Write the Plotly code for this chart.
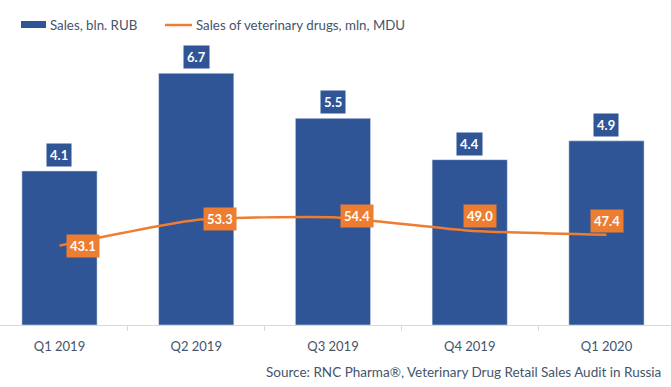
import plotly.graph_objects as go

categories = ["Q1 2019", "Q2 2019", "Q3 2019", "Q4 2019", "Q1 2020"]
sales_bln_rub = [4.1, 6.7, 5.5, 4.4, 4.9]
sales_mln_mdu = [43.1, 53.3, 54.4, 49.0, 47.4]
bar_name = "Sales, bln. RUB"
line_name = "Sales of veterinary drugs, mln, MDU"
source_text = "Source: RNC Pharma®, Veterinary Drug Retail Sales Audit in Russia"

BLUE = "#2F5597"
ORANGE = "#ED7D31"
TEXT = "#44546A"
FONT = "Lato"

W, H = 671, 387
MT, MB = 27, 62
pw, ph = W, H - MT - MB


def px_x(x):
    return x / pw


def px_y(y):
    return ((H - MB) - y) / ph


fig = go.Figure()
fig.add_trace(go.Bar(x=categories, y=sales_bln_rub, name=bar_name,
                     marker_color=BLUE, width=0.55, showlegend=False, hoverinfo="skip"))
fig.add_trace(go.Scatter(x=categories, y=sales_mln_mdu, name=line_name, yaxis="y2",
                         mode="lines", line=dict(color=ORANGE, width=2.5, shape="spline", smoothing=0.5),
                         showlegend=False, hoverinfo="skip"))

ann = []
for c, v in zip(categories, sales_bln_rub):
    ann.append(dict(x=c, y=v, xref="x", yref="y", text=f"<b>{v:.1f}</b>", showarrow=False,
                    yanchor="bottom", yshift=4, bgcolor=BLUE, borderpad=3,
                    font=dict(color="white", size=13, family=FONT)))
# offsets of line labels (pixels)
line_offsets = [(24, 0), (24, 1), (24, 1), (10, 15), (1, 14)]
for (c, v), (dx, dy) in zip(zip(categories, sales_mln_mdu), line_offsets):
    ann.append(dict(x=c, y=v, xref="x", yref="y2", text=f"<b>{v:.1f}</b>", showarrow=False,
                    xshift=dx, yshift=dy, bgcolor=ORANGE, borderpad=3,
                    font=dict(color="white", size=13, family=FONT)))
ann.append(dict(x=px_x(48), y=px_y(25), xref="paper", yref="paper", text=bar_name, showarrow=False,
                xanchor="left", yanchor="middle", font=dict(color=TEXT, size=13.3, family=FONT)))
ann.append(dict(x=px_x(194), y=px_y(25), xref="paper", yref="paper", text=line_name, showarrow=False,
                xanchor="left", yanchor="middle", font=dict(color=TEXT, size=13.3, family=FONT)))
ann.append(dict(x=px_x(663), y=px_y(372), xref="paper", yref="paper", text=source_text, showarrow=False,
                xanchor="right", yanchor="middle", font=dict(color=TEXT, size=13.5, family=FONT)))

fig.update_layout(
    width=W, height=H,
    margin=dict(l=0, r=0, t=MT, b=MB),
    paper_bgcolor="white", plot_bgcolor="white",
    font=dict(family=FONT, color=TEXT, size=13),
    hovermode=False,
    xaxis=dict(range=[-0.435, 4.472], showline=True, linecolor="#D9D9D9", linewidth=1,
               ticks="outside", tickson="boundaries", ticklen=5, tickcolor="#D9D9D9",
               ticklabelstandoff=9,
               showgrid=False, tickfont=dict(size=13, color=TEXT, family=FONT)),
    yaxis=dict(range=[0, 7.93], visible=False, showgrid=False),
    yaxis2=dict(range=[11.5, 130.1], overlaying="y", visible=False, showgrid=False),
    annotations=ann,
)

fig.add_shape(type="rect", xref="paper", yref="paper",
              x0=px_x(21), x1=px_x(46), y0=px_y(28), y1=px_y(21),
              fillcolor=BLUE, line=dict(width=0))
fig.add_shape(type="line", xref="paper", yref="paper",
              x0=px_x(165), x1=px_x(192), y0=px_y(25), y1=px_y(25),
              line=dict(color=ORANGE, width=2.5))

fig.write_html("out.html", config={"displayModeBar": False, "staticPlot": True})

with open("out.html", "r", encoding="utf-8") as f:
    html = f.read()
html = html.replace("<head>", "<head><style>html,body{margin:0;padding:0;}</style>", 1)
with open("out.html", "w", encoding="utf-8") as f:
    f.write(html)
